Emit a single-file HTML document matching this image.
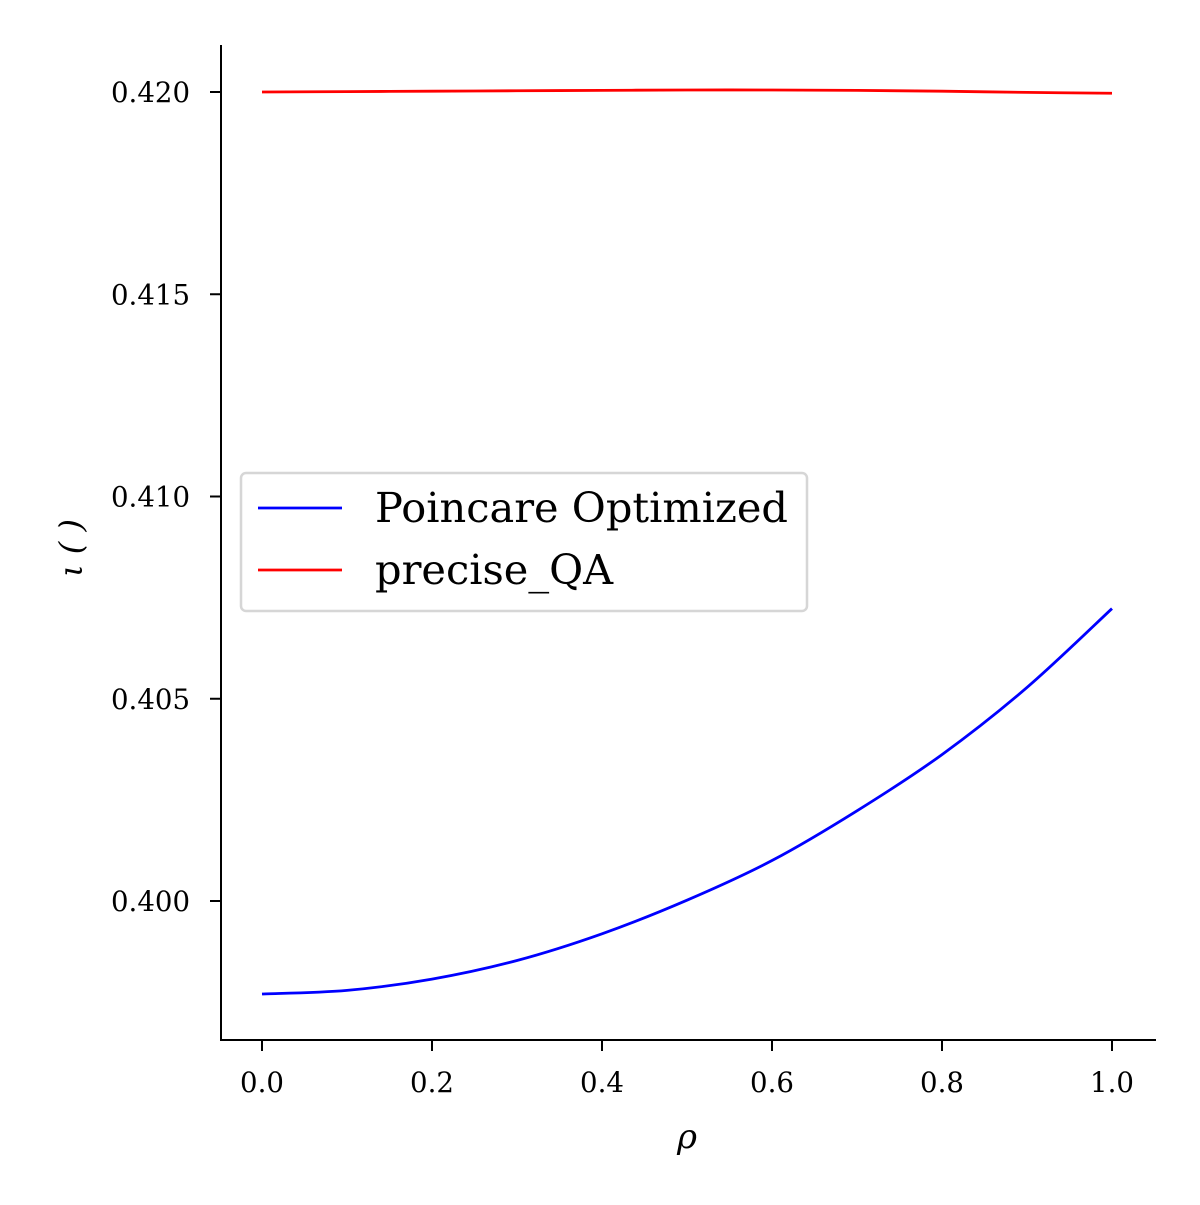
<!DOCTYPE html>
<html><head><meta charset="utf-8"><style>
html,body{margin:0;padding:0;background:#fff;}
svg text{font-family:"DejaVu Serif","Liberation Serif",serif;}
</style></head><body>
<svg id="chart" width="1200" height="1200" viewBox="0 0 1200 1200" xmlns="http://www.w3.org/2000/svg">
<g id="plot"></g>
<text x="687" y="1148" text-anchor="middle" font-size="34" font-style="italic">ρ</text>
<text transform="translate(82,548) rotate(-90)" text-anchor="middle" font-size="32" font-style="italic">ι ( )</text>
<g>
<rect x="241" y="473" width="566" height="138" rx="5" fill="#fff" fill-opacity="0.8" stroke="#d6d6d6" stroke-width="2.5"/>
<line x1="258" y1="508" x2="342" y2="508" stroke="#0000ff" stroke-width="2.8"/>
<text x="375" y="522" font-size="41.5">Poincare Optimized</text>
<line x1="258" y1="570" x2="342" y2="570" stroke="#ff0000" stroke-width="2.8"/>
<text x="375" y="584" font-size="41.5">precise_QA</text>
</g>
</svg>
<script>
const rhoValues=[0,0.1,0.2,0.3,0.4,0.5,0.6,0.7,0.8,0.9,1.0];
const poincareValues=[0.39770,0.39779,0.39807,0.39853,0.39919,0.40002,0.40100,0.40223,0.40362,0.40528,0.40723];
const preciseValues=[0.42000,0.42001,0.42002,0.42003,0.42004,0.42005,0.42005,0.42004,0.42002,0.41999,0.41997];
const xTicks=[0,0.2,0.4,0.6,0.8,1.0];
const xTickLabels=["0.0","0.2","0.4","0.6","0.8","1.0"];
const yTicks=[0.400,0.405,0.410,0.415,0.420];
const yTickLabels=["0.400","0.405","0.410","0.415","0.420"];

const NS="http://www.w3.org/2000/svg";
const g=document.getElementById('plot');
function X(v){return 262+v*850;}
function Y(v){return 901-(v-0.400)*40450;}
function mk(t,a){const e=document.createElementNS(NS,t);for(const k in a)e.setAttribute(k,a[k]);g.appendChild(e);return e;}

let e;
e=mk('line',{x1:221,y1:45,x2:221,y2:1040,stroke:'#000','stroke-width':2});


e=mk('line',{x1:220,y1:1040,x2:1156,y2:1040,stroke:'#000','stroke-width':2});



xTicks.forEach((v,i)=>{
  e=mk('line',{x1:X(v),y1:1040,x2:X(v),y2:1051,stroke:'#000','stroke-width':2});
  
  
  e=mk('text',{x:X(v),y:1092,'text-anchor':'middle','font-size':27.6});
  e.textContent=xTickLabels[i];
  
  
});
yTicks.forEach((v,i)=>{
  e=mk('line',{x1:210,y1:Y(v),x2:221,y2:Y(v),stroke:'#000','stroke-width':2});
  
  
  e=mk('text',{x:190,y:Y(v)+10,'text-anchor':'end','font-size':27.6});
  e.textContent=yTickLabels[i];
  
  
});

function series(vals,color){
  const pts=rhoValues.map((r,i)=>[X(r),Y(vals[i])]);
  let d='M'+pts[0][0]+','+pts[0][1];
  for(let i=0;i<pts.length-1;i++){
    const p0=pts[Math.max(0,i-1)],p1=pts[i],p2=pts[i+1],p3=pts[Math.min(pts.length-1,i+2)];
    const c1=[p1[0]+(p2[0]-p0[0])/6,p1[1]+(p2[1]-p0[1])/6];
    const c2=[p2[0]-(p3[0]-p1[0])/6,p2[1]-(p3[1]-p1[1])/6];
    d+=' C'+c1[0]+','+c1[1]+' '+c2[0]+','+c2[1]+' '+p2[0]+','+p2[1];
  }
  return mk('path',{d:d,fill:'none',stroke:color,'stroke-width':2.8});
}
e=series(poincareValues,'#0000ff');


e=series(preciseValues,'#ff0000');


</script>
</body></html>
